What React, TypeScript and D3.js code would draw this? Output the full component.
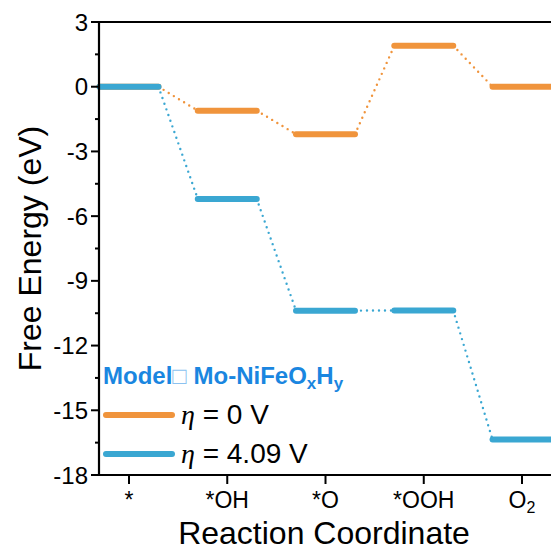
import React from "react";
import * as d3 from "d3";

const categories = ["*", "*OH", "*O", "*OOH", "O2"];
const seriesNames = ["η = 0 V", "η = 4.09 V"];
const eta0 = [0, -1.11, -2.2, 1.9, 0];
const eta409 = [0, -5.2, -10.38, -10.37, -16.36];
const yTicks = [3, 0, -3, -6, -9, -12, -15, -18];
const yMinorTicks = [1.5, -1.5, -4.5, -7.5, -10.5, -13.5, -16.5];
const colors = ["#f0943c", "#3aa7d2"];

const W = 551, H = 549;
const x = d3.scaleLinear().domain([-0.3053, 4.295]).range([99, 551]);
const y = d3.scaleLinear().domain([-18, 3]).range([475, 22]);
const HW = 0.3;

function Series({ values, color }: { values: number[]; color: string }) {
  const conn = d3.line<[number, number]>().x((d) => x(d[0])).y((d) => y(d[1]));
  return (
    <g>
      {values.slice(0, -1).map((v, i) => (
        <path
          key={"c" + i}
          d={conn([[i + HW, v], [i + 1 - HW, values[i + 1]]]) || ""}
          stroke={color}
          strokeWidth={2.4}
          strokeDasharray="0 6"
          strokeLinecap="round"
          fill="none"
        />
      ))}
      {values.map((v, i) => (
        <line
          key={"l" + i}
          x1={x(i - HW)}
          x2={x(i + HW)}
          y1={y(v)}
          y2={y(v)}
          stroke={color}
          strokeWidth={6}
          strokeLinecap="round"
        />
      ))}
    </g>
  );
}

export default function App() {
  const font = "'Liberation Sans', Arial, sans-serif";
  return (
    <svg
      width={W}
      height={H}
      style={{ position: "absolute", left: 0, top: 0, background: "#fff" }}
      fontFamily={font}
    >
      <Series values={eta0} color={colors[0]} />
      <Series values={eta409} color={colors[1]} />
      {/* axes */}
      <line x1={99} x2={551} y1={22} y2={22} stroke="#000" strokeWidth={2.2} />
      <line x1={99} x2={99} y1={21} y2={476} stroke="#000" strokeWidth={2.2} />
      <line x1={98} x2={551} y1={475} y2={475} stroke="#000" strokeWidth={2.2} />
      {yTicks.map((t) => (
        <g key={t}>
          <line x1={91} x2={99} y1={y(t)} y2={y(t)} stroke="#000" strokeWidth={2} />
          <text x={88} y={y(t)} dy="0.36em" textAnchor="end" fontSize={24}>
            {t}
          </text>
        </g>
      ))}
      {yMinorTicks.map((t) => (
        <line key={t} x1={95} x2={99} y1={y(t)} y2={y(t)} stroke="#000" strokeWidth={2} />
      ))}
      {categories.map((c, i) => (
        <g key={c}>
          <line x1={x(i)} x2={x(i)} y1={475} y2={484} stroke="#000" strokeWidth={2} />
          <text x={x(i)} y={508} textAnchor="middle" fontSize={23}>
            {c === "O2" ? (
              <>
                O<tspan fontSize={16} dy={5}>2</tspan>
              </>
            ) : (
              c
            )}
          </text>
        </g>
      ))}
      <text x={324} y={544} textAnchor="middle" fontSize={32}>
        Reaction Coordinate
      </text>
      <text
        transform={`translate(41, ${(22 + 475) / 2}) rotate(-90)`}
        textAnchor="middle"
        fontSize={32}
      >
        Free Energy (eV)
      </text>
      {/* legend */}
      <text x={103} y={384} fontSize={24} fontWeight="bold" fill="#1a86e0">
        Model<tspan fontWeight="normal" fill="#8cc2f0">□</tspan> Mo-NiFeO
        <tspan fontSize={17} dy={5}>x</tspan>
        <tspan dy={-5}>H</tspan>
        <tspan fontSize={17} dy={5}>y</tspan>
      </text>
      {seriesNames.map((s, i) => (
        <g key={s}>
          <line
            x1={106}
            x2={172}
            y1={415 + i * 39}
            y2={415 + i * 39}
            stroke={colors[i]}
            strokeWidth={6}
            strokeLinecap="round"
          />
          <text x={181} y={424 + i * 39} fontSize={28}>
            <tspan fontFamily="'Liberation Serif', serif" fontStyle="italic">
              {s.slice(0, 1)}
            </tspan>
            {s.slice(1)}
          </text>
        </g>
      ))}
    </svg>
  );
}
